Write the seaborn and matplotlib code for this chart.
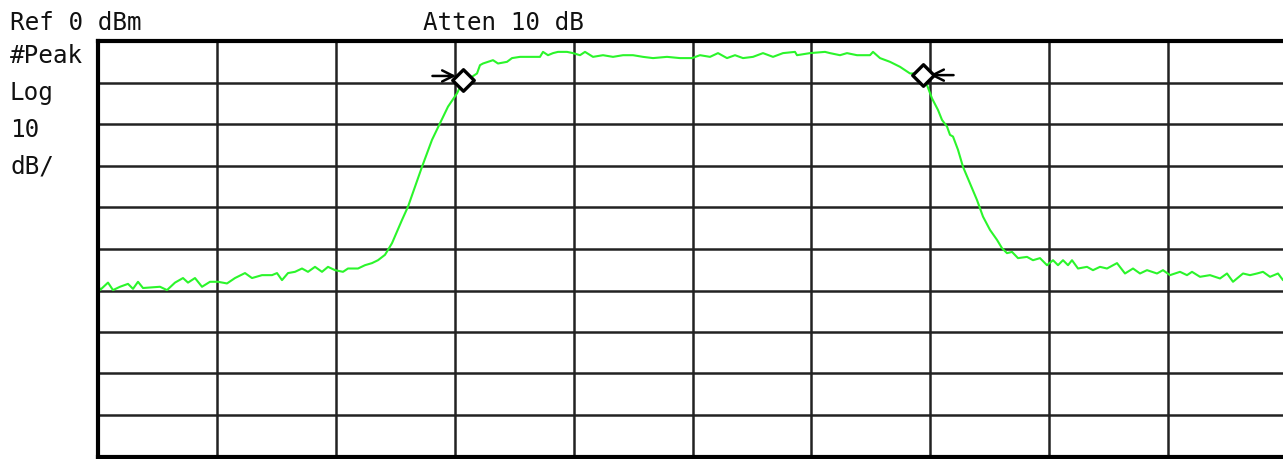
import matplotlib
matplotlib.use("Agg")
import matplotlib.pyplot as plt
import seaborn as sns
import numpy as np

# Trace: sweep bin (0..1189 across the graticule) vs level in dBm
sweep_bin = [0, 2, 10, 15, 22, 30, 35, 40, 45, 62, 69, 77, 85, 90, 97, 104, 112, 120, 129, 137,
             147, 154, 164, 174, 179, 184, 190, 197, 204, 210, 217, 224, 230, 237, 245, 250, 260, 267, 274, 280,
             287, 294, 304, 310, 317, 324, 334, 342, 350, 359, 364, 369, 379, 382, 385, 395, 400, 409, 414, 422,
             442, 445, 450, 455, 460, 469, 475, 482, 487, 495, 505, 515, 525, 535, 545, 555, 569, 582, 594, 602,
             612, 620, 629, 637, 645, 655, 665, 675, 685, 697, 699, 712, 727, 732, 742, 749, 759, 772, 775, 782,
             792, 802, 812, 819, 824, 829, 834, 840, 844, 849, 852, 855, 860, 865, 872, 879, 885, 892, 899, 904,
             909, 914, 920, 929, 935, 942, 949, 955, 960, 965, 970, 974, 980, 989, 995, 1002, 1009, 1019, 1027, 1035,
             1042, 1049, 1059, 1065, 1072, 1082, 1089, 1094, 1102, 1112, 1122, 1129, 1135, 1145, 1152, 1159, 1165, 1172, 1180, 1185]
level_dbm = [-58.3, -59.9, -58.1, -59.9, -59.1, -58.4, -59.6, -57.9, -59.4, -59.1, -59.9, -58.1, -57.0, -58.1, -57.0, -59.1, -57.9, -57.9, -58.3, -57.0,
             -55.8, -57.0, -56.3, -56.3, -55.8, -57.5, -55.8, -55.5, -54.7, -55.5, -54.3, -55.5, -54.3, -55.1, -55.5, -54.7, -54.7, -53.9, -53.4, -52.7,
             -51.4, -48.6, -43.0, -39.8, -35.0, -30.2, -23.7, -19.7, -15.7, -12.5, -10.0, -9.3, -7.7, -5.7, -5.3, -4.5, -5.3, -4.9, -4.0, -3.7,
             -3.7, -2.5, -3.3, -2.8, -2.5, -2.5, -2.8, -3.3, -2.5, -3.7, -3.3, -3.7, -3.3, -3.3, -3.7, -4.0, -3.7, -4.0, -4.0, -3.3,
             -3.7, -2.8, -4.0, -3.3, -4.0, -3.7, -2.8, -3.7, -2.8, -2.5, -3.3, -2.8, -2.5, -2.8, -3.3, -2.8, -3.3, -3.3, -2.5, -4.0,
             -4.9, -6.1, -7.7, -7.7, -8.5, -10.5, -13.7, -16.5, -18.9, -20.5, -22.5, -22.9, -26.1, -30.2, -34.2, -38.2, -42.2, -45.4, -47.8, -49.8,
             -51.0, -50.7, -52.2, -51.9, -52.7, -52.2, -53.9, -52.7, -53.9, -52.7, -53.9, -52.7, -54.7, -54.3, -55.1, -54.3, -54.7, -53.4, -55.9, -54.7,
             -55.9, -55.1, -55.9, -55.1, -56.3, -55.5, -56.3, -55.5, -56.7, -56.3, -57.1, -55.9, -57.9, -55.9, -56.3, -55.9, -55.5, -56.7, -55.9, -57.5]

# delta markers
marker_bin = [365, 825]
marker_dbm = [-9.3, -8.1]

ref_level = 0
db_per_div = 10
span_bins = 1189

sns.set_theme(style="white")
plt.rcParams['font.family'] = ['DejaVu Sans Mono', 'DejaVu Sans']

W, H = 1283, 459
fig = plt.figure(figsize=(W / 100, H / 100), dpi=100)
fig.patch.set_facecolor('white')
ax = fig.add_axes([98 / W, 2.5 / H, span_bins / W, 415 / H])
ax.set_facecolor('white')

sns.lineplot(x=sweep_bin, y=level_dbm, ax=ax, color='#2bf52b', linewidth=1.5,
             estimator=None, sort=False, zorder=3)
sns.scatterplot(x=marker_bin, y=marker_dbm, ax=ax, marker='D', s=120,
                facecolor='white', edgecolor='black', linewidth=2.4, zorder=5)

# marker arrows
ax.annotate('', xy=(marker_bin[0], marker_dbm[0] + 1.0), xytext=(-22, 0), textcoords='offset points',
            arrowprops=dict(arrowstyle='->', lw=1.8, color='black', shrinkA=0, shrinkB=5, mutation_scale=20))
ax.annotate('', xy=(marker_bin[1], marker_dbm[1]), xytext=(22, 0), textcoords='offset points',
            arrowprops=dict(arrowstyle='->', lw=1.8, color='black', shrinkA=0, shrinkB=5, mutation_scale=20))

ax.set_xlim(0, span_bins)
ax.set_ylim(ref_level - 10 * db_per_div, ref_level)
ax.set_xticks(np.linspace(0, span_bins, 11))
ax.set_yticks(np.arange(ref_level - 10 * db_per_div, ref_level + 1, db_per_div))
ax.set_xticklabels([])
ax.set_yticklabels([])
ax.tick_params(length=0)
ax.grid(True, color='#222222', linewidth=1.8)
ax.set_xlabel('')
ax.set_ylabel('')
for s in ax.spines.values():
    s.set_color('black')
    s.set_linewidth(3)
    s.set_zorder(6)

fs = 17.5
fig.text(10 / W, 1 - 30 / H, 'Ref 0 dBm', fontsize=fs, va='baseline', color='#111111')
fig.text(423 / W, 1 - 30 / H, 'Atten 10 dB', fontsize=fs, va='baseline', color='#111111')
for lbl, yb in zip(['#Peak', 'Log', '10', 'dB/'], [63, 100, 137, 173]):
    fig.text(10 / W, 1 - yb / H, lbl, fontsize=fs, va='baseline', color='#111111')

plt.savefig('out.png', dpi=100)
plt.close()
